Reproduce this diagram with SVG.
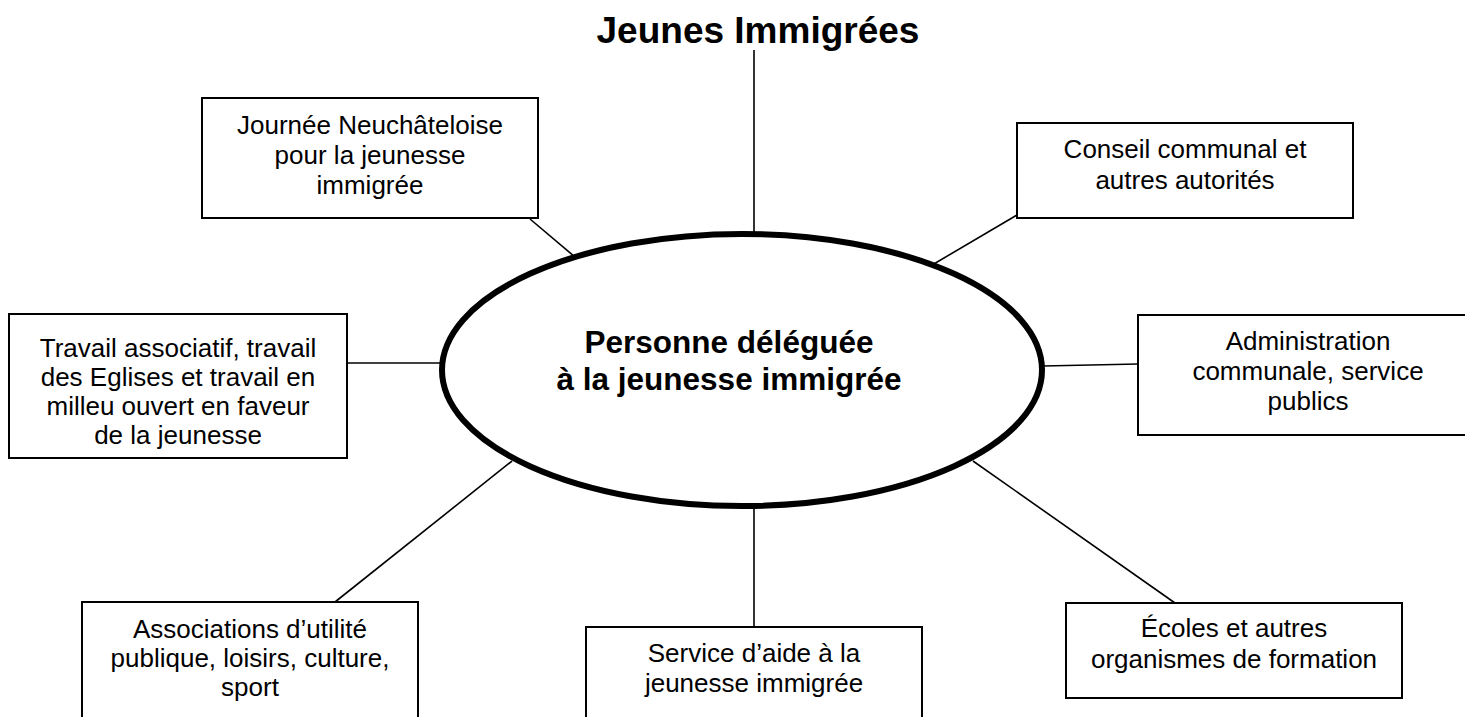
<svg xmlns="http://www.w3.org/2000/svg" width="1465" height="717" viewBox="0 0 1465 717">
<style>
.box{fill:#fff;stroke:#000;stroke-width:2}
.t{font-family:"Liberation Sans",Arial,sans-serif;font-size:26px;fill:#000;text-anchor:middle}
.b{font-family:"Liberation Sans",Arial,sans-serif;font-weight:bold;fill:#000;text-anchor:middle}
.c line{stroke:#000;stroke-width:1.6}
</style>
<rect width="1465" height="717" fill="#fff"/>
<g class="c" id="connectors">
<line x1="754" y1="50" x2="754" y2="234"/>
<line x1="530" y1="219" x2="588" y2="268"/>
<line x1="347" y1="363" x2="442" y2="363"/>
<line x1="335" y1="602" x2="512" y2="461"/>
<line x1="754" y1="507" x2="754" y2="627"/>
<line x1="973" y1="461" x2="1175" y2="603"/>
<line x1="1043" y1="366" x2="1138" y2="364"/>
<line x1="927" y1="268" x2="1017" y2="215"/>
</g>
<g id="title"><text class="b" x="758" y="43" font-size="37">Jeunes Immigrées</text></g>
<g id="center">
<ellipse cx="742" cy="370" rx="300" ry="136" fill="#fff" stroke="#000" stroke-width="6"/>
<text class="b" x="729" y="353" font-size="31.5">Personne déléguée</text>
<text class="b" x="729" y="390" font-size="31.5">à la jeunesse immigrée</text>
</g>
<g id="journee">
<rect class="box" x="202" y="98" width="336" height="120"/>
<text class="t" x="370" y="134">Journée Neuchâteloise</text>
<text class="t" x="370" y="164">pour la jeunesse</text>
<text class="t" x="370" y="194">immigrée</text>
</g>
<g id="conseil">
<rect class="box" x="1017" y="123" width="336" height="95"/>
<text class="t" x="1185" y="158">Conseil communal et</text>
<text class="t" x="1185" y="189">autres autorités</text>
</g>
<g id="travail">
<rect class="box" x="9" y="314" width="338" height="144"/>
<text class="t" x="178" y="357">Travail associatif, travail</text>
<text class="t" x="178" y="386">des Eglises et travail en</text>
<text class="t" x="178" y="415">milleu ouvert en faveur</text>
<text class="t" x="178" y="444">de la jeunesse</text>
</g>
<g id="administration">
<rect class="box" x="1138" y="315" width="340" height="120"/>
<text class="t" x="1308" y="350">Administration</text>
<text class="t" x="1308" y="380">communale, service</text>
<text class="t" x="1308" y="410">publics</text>
</g>
<g id="associations">
<rect class="box" x="82" y="602" width="336" height="130"/>
<text class="t" x="250" y="638">Associations d’utilité</text>
<text class="t" x="250" y="667">publique, loisirs, culture,</text>
<text class="t" x="250" y="696">sport</text>
</g>
<g id="service">
<rect class="box" x="586" y="627" width="336" height="110"/>
<text class="t" x="754" y="662">Service d’aide à la</text>
<text class="t" x="754" y="692">jeunesse immigrée</text>
</g>
<g id="ecoles">
<rect class="box" x="1066" y="603" width="336" height="95"/>
<text class="t" x="1234" y="637">Écoles et autres</text>
<text class="t" x="1234" y="668">organismes de formation</text>
</g>
</svg>
